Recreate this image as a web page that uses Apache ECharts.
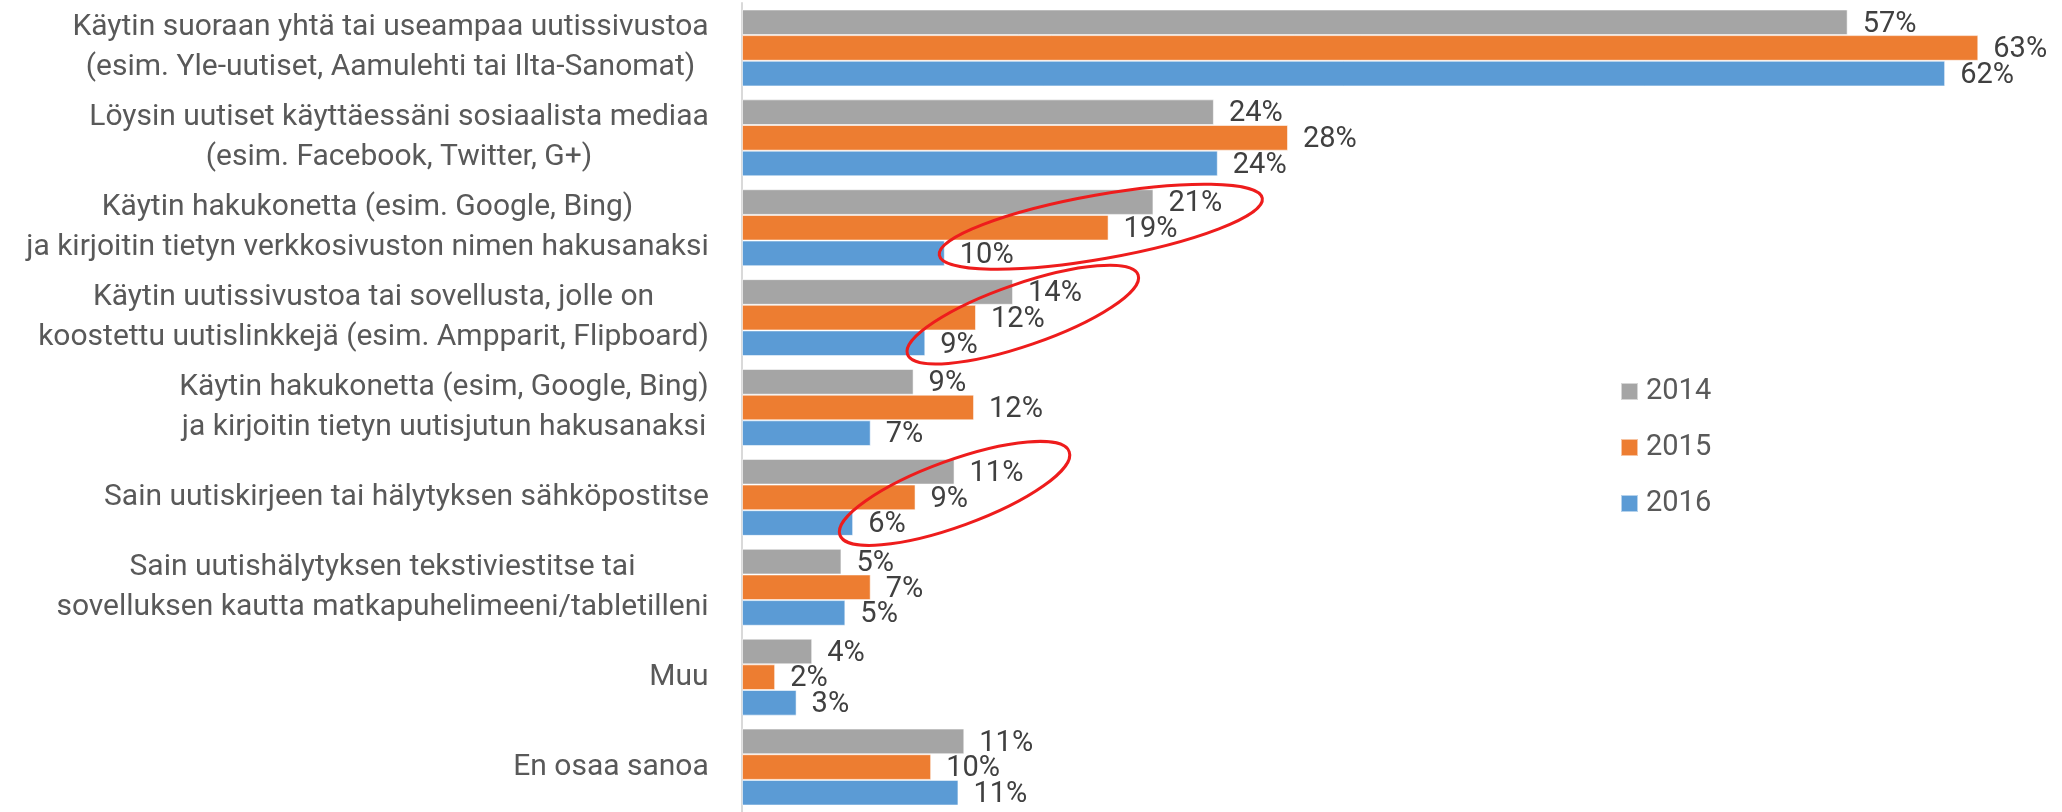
<!DOCTYPE html>
<html>
<head>
<meta charset="utf-8">
<script src="https://cdn.jsdelivr.net/npm/echarts@6/dist/echarts.min.js"></script>
<style>
  html, body { margin: 0; padding: 0; background: #fff; }
  #chart { width: 2062px; height: 812px; }
</style>
</head>
<body>
<div id="chart"></div>
<script>
(function (window) {
    "use strict";
    // categories, top to bottom
    var categories = [
        'Käytin suoraan yhtä tai useampaa uutissivustoa\n(esim. Yle-uutiset, Aamulehti tai Ilta-Sanomat)',
        'Löysin uutiset käyttäessäni sosiaalista mediaa\n(esim. Facebook, Twitter, G+)',
        'Käytin hakukonetta (esim. Google, Bing)\nja kirjoitin tietyn verkkosivuston nimen hakusanaksi',
        'Käytin uutissivustoa tai sovellusta, jolle on\nkoostettu uutislinkkejä (esim. Ampparit, Flipboard)',
        'Käytin hakukonetta (esim, Google, Bing)\nja kirjoitin tietyn uutisjutun hakusanaksi',
        'Sain uutiskirjeen tai hälytyksen sähköpostitse',
        'Sain uutishälytyksen tekstiviestitse tai\nsovelluksen kautta matkapuhelimeeni/tabletilleni',
        'Muu',
        'En osaa sanoa'
    ];
    var years = ['2014', '2015', '2016'];
    // percent
    var values2014 = [56.7, 24.2, 21.1, 13.9, 8.8, 10.9, 5.1, 3.6, 11.4];
    var values2015 = [63.4, 28.0, 18.8, 12.0, 11.9, 8.9, 6.6, 1.7, 9.7];
    var values2016 = [61.7, 24.4, 10.4, 9.4, 6.6, 5.7, 5.3, 2.8, 11.1];

    // hand drawn red rings: category index, centre value (%), pixel shift, radii, angle (deg)
    var rings = [
        { cat: 2, x: 18.4, dy: -1, rx: 164, ry: 32, angle: 10 },
        { cat: 3, x: 14.4, dy: -3, rx: 122, ry: 31, angle: 19 },
        { cat: 5, x: 10.9, dy: -4, rx: 122, ry: 33, angle: 20 }
    ];

    var colors = ['#a5a5a5', '#ed7d31', '#5b9bd5'];
    var font = 'Roboto, "Liberation Sans", Arial, sans-serif';
    var labelSize = 30;

    // each multi-line label gets its lines centred in a box as wide as its longest line
    var measure = document.createElement('canvas').getContext('2d');
    measure.font = labelSize + 'px ' + font;
    var rich = {};
    categories.forEach(function (c, i) {
        var w = 0;
        c.split('\n').forEach(function (line) {
            w = Math.max(w, measure.measureText(line).width);
        });
        rich['l' + i] = {
            width: Math.ceil(w) + 2,
            align: 'center',
            fontSize: labelSize,
            fontFamily: font,
            color: '#595959',
            lineHeight: 40
        };
    });

    var make_series = function (name, data, idx) {
        return {
            name: name,
            type: 'bar',
            data: data,
            barGap: '0%',
            barCategoryGap: '14.4%',
            itemStyle: {
                color: colors[idx],
                borderColor: 'rgba(255,255,255,0.55)',
                borderWidth: 1
            },
            label: {
                show: true,
                position: 'right',
                distance: 15,
                offset: [0, 2],
                fontSize: 29,
                fontFamily: font,
                color: '#404040',
                formatter: function (p) {
                    return Math.round(p.value) + '%';
                }
            },
            emphasis: { disabled: true },
            animation: false
        };
    };

    var chart = echarts.init(document.getElementById('chart'));
    var option = {
        backgroundColor: '#ffffff',
        animation: false,
        grid: { left: 742, top: 3, width: 1267.5, height: 812 },
        xAxis: {
            type: 'value',
            min: 0,
            max: 65,
            show: false,
            splitLine: { show: false }
        },
        yAxis: {
            type: 'category',
            data: categories,
            inverse: true,
            axisLine: { show: true, lineStyle: { color: '#d9d9d9', width: 2 } },
            axisTick: { show: false },
            axisLabel: {
                margin: 32,
                fontSize: labelSize,
                fontFamily: font,
                color: '#595959',
                lineHeight: 40,
                rich: rich,
                formatter: function (v, i) {
                    return v.split('\n').map(function (line) {
                        return '{l' + i + '|' + line + '}';
                    }).join('\n');
                }
            }
        },
        legend: {
            orient: 'vertical',
            left: 1615,
            top: 372,
            icon: 'rect',
            itemWidth: 17,
            itemHeight: 17,
            itemGap: 27,
            data: years,
            textStyle: {
                fontSize: 29,
                fontFamily: font,
                color: '#595959',
                padding: [0, 0, 0, 3]
            }
        },
        series: [
            make_series(years[0], values2014, 0),
            make_series(years[1], values2015, 1),
            make_series(years[2], values2016, 2)
        ]
    };
    chart.setOption(option);

    // place the rings through the chart's own scales
    var ringEls = rings.map(function (r) {
        var c = chart.convertToPixel({ gridIndex: 0 }, [r.x, r.cat]);
        return {
            type: 'ellipse',
            shape: { cx: 0, cy: 0, rx: r.rx, ry: r.ry },
            x: c[0],
            y: c[1] + r.dy,
            rotation: r.angle * Math.PI / 180,
            style: { fill: null, stroke: '#ee1c1c', lineWidth: 3 },
            silent: true,
            z: 100
        };
    });
    chart.setOption({ graphic: ringEls });
})(window);
</script>
</body>
</html>
